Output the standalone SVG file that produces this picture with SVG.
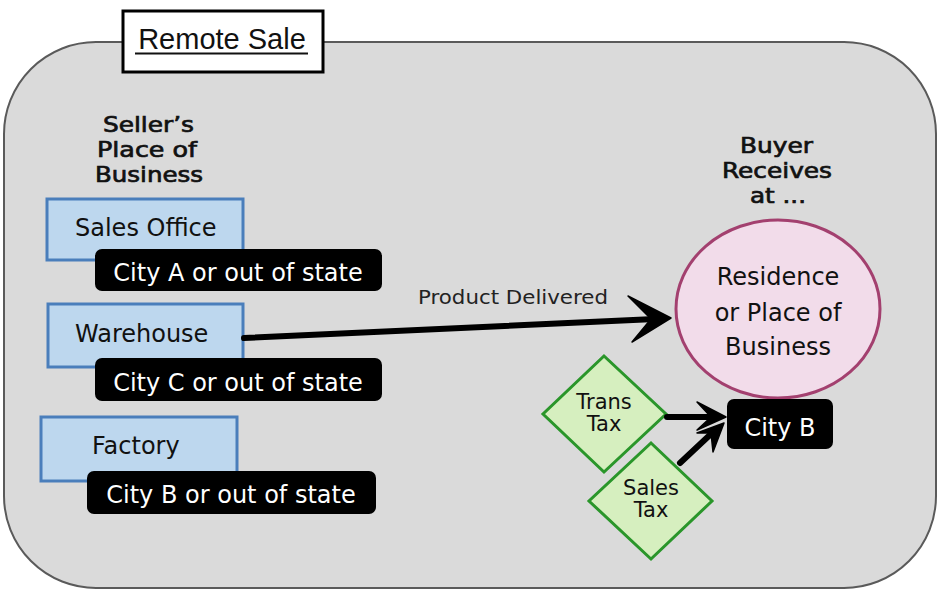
<svg xmlns="http://www.w3.org/2000/svg" width="940" height="591" viewBox="0 0 940 591">
<defs>
<style>
.t{font-family:"DejaVu Sans",sans-serif;fill:#111}
.h{font-family:"DejaVu Sans",sans-serif;fill:#111;font-size:21px;stroke:#111;stroke-width:0.7}
.w{font-family:"DejaVu Sans",sans-serif;fill:#fff;font-size:24px}
.box{fill:#bdd7ee;stroke:#4a7ebb;stroke-width:3}
.lab{fill:#000}
.dia{fill:#d6efbf;stroke:#2a962a;stroke-width:3}
.con{stroke:#000;stroke-width:6;fill:none;stroke-linecap:round}
.head{fill:#000;stroke:#000;stroke-width:1.5;stroke-linejoin:round}
</style>
</defs>
<rect width="940" height="591" fill="#fff"/>
<rect id="frame" x="4" y="42" width="932" height="546" rx="92" fill="#dadada" stroke="#5a5a5a" stroke-width="2"/>
<g id="title">
<rect x="123" y="11" width="200" height="61" fill="#fff" stroke="#000" stroke-width="3"/>
<text x="222" y="49" text-anchor="middle" font-family="Liberation Sans, sans-serif" font-size="29" fill="#111">Remote Sale</text>
<line x1="135" y1="53.5" x2="308" y2="53.5" stroke="#111" stroke-width="2"/>
</g>
<g id="seller-heading">
<text class="h" x="103" y="132" textLength="91" lengthAdjust="spacingAndGlyphs">Seller’s</text>
<text class="h" x="97" y="157" textLength="100" lengthAdjust="spacingAndGlyphs">Place of</text>
<text class="h" x="95" y="182" textLength="108" lengthAdjust="spacingAndGlyphs">Business</text>
</g>
<g id="sales-office">
<rect class="box" x="47" y="199" width="196" height="61"/>
<rect class="lab" x="95" y="249" width="287" height="42" rx="7"/>
<text class="t" x="75" y="236" font-size="24">Sales Office</text>
<text class="w" x="238" y="281" text-anchor="middle">City A or out of state</text>
</g>
<g id="warehouse">
<rect class="box" x="48" y="304" width="195" height="63"/>
<rect class="lab" x="95" y="358" width="287" height="43" rx="7"/>
<text class="t" x="75" y="342" font-size="24">Warehouse</text>
<text class="w" x="238" y="391" text-anchor="middle">City C or out of state</text>
</g>
<g id="factory">
<rect class="box" x="41" y="417" width="196" height="64"/>
<rect class="lab" x="87" y="471" width="289" height="43" rx="7"/>
<text class="t" x="92" y="454" font-size="24">Factory</text>
<text class="w" x="231" y="503" text-anchor="middle">City B or out of state</text>
</g>
<g id="buyer-heading">
<text class="h" x="740" y="153" textLength="73" lengthAdjust="spacingAndGlyphs">Buyer</text>
<text class="h" x="722" y="178" textLength="110" lengthAdjust="spacingAndGlyphs">Receives</text>
<text class="h" x="750" y="203" textLength="56" lengthAdjust="spacingAndGlyphs">at ...</text>
</g>
<g id="residence">
<ellipse cx="778" cy="309" rx="102" ry="89" fill="#f2dcea" stroke="#a3406f" stroke-width="3"/>
<text class="t" font-size="24" text-anchor="middle" x="778" y="285">Residence</text>
<text class="t" font-size="24" text-anchor="middle" x="778" y="321">or Place of</text>
<text class="t" font-size="24" text-anchor="middle" x="778" y="355">Business</text>
</g>
<g id="city-b">
<rect class="lab" x="727" y="399" width="106" height="50" rx="7"/>
<text class="w" x="780" y="436" text-anchor="middle">City B</text>
</g>
<g id="trans-tax">
<polygon class="dia" points="604,356 666,414 604,472 543,414"/>
<text class="t" font-size="21" text-anchor="middle" x="604" y="409">Trans</text>
<text class="t" font-size="21" text-anchor="middle" x="604" y="431">Tax</text>
</g>
<g id="sales-tax">
<polygon class="dia" points="651,443 712,501 651,559 589,501"/>
<text class="t" font-size="21" text-anchor="middle" x="651" y="495">Sales</text>
<text class="t" font-size="21" text-anchor="middle" x="651" y="517">Tax</text>
</g>
<g id="connectors">
<line class="con" x1="244" y1="338" x2="655" y2="319"/>
<polygon class="head" points="671,318 628,296 651,319 632,342"/>
<text x="513" y="304" text-anchor="middle" font-family="DejaVu Sans, sans-serif" font-size="20" fill="#222" textLength="190" lengthAdjust="spacingAndGlyphs">Product Delivered</text>
<line class="con" x1="667" y1="417" x2="712" y2="417"/>
<polygon class="head" points="726,417 697,402 711,417 697,430"/>
<line class="con" x1="680" y1="463" x2="712" y2="433"/>
<polygon class="head" points="724,423 697,433 711,433 713,452"/>
</g>
</svg>
